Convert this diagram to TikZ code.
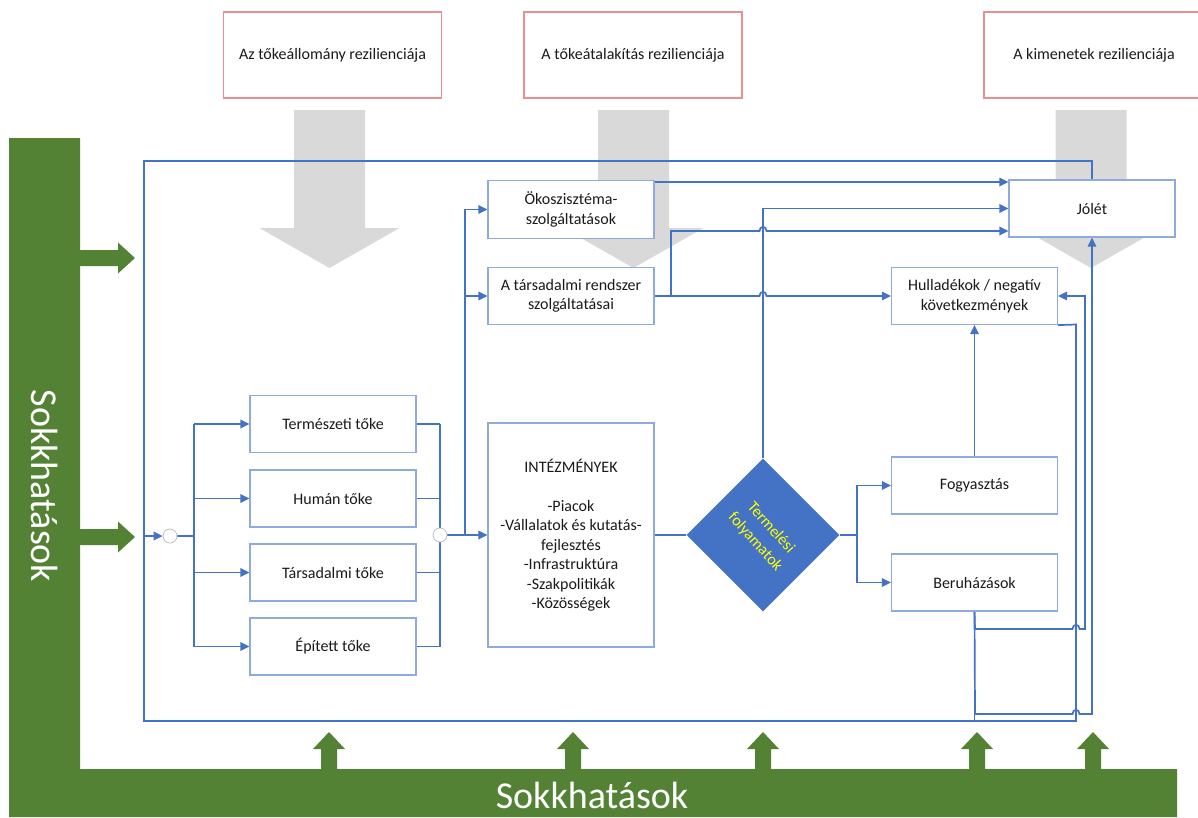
\documentclass[tikz,border=0pt]{standalone}
\usepackage{fontspec}
\setmainfont{Carlito}
\usetikzlibrary{arrows.meta,shapes.geometric,calc}
\definecolor{grn}{HTML}{548235}
\definecolor{gry}{HTML}{D9D9D9}
\definecolor{blu}{HTML}{4472C4}
\definecolor{lblu}{HTML}{8FAADC}
\definecolor{redb}{HTML}{EA8F8F}
\definecolor{txt}{HTML}{1A1A1A}
\definecolor{yel}{HTML}{FFFF00}
\definecolor{circgray}{HTML}{BFBFBF}
\pgfdeclarelayer{back}
\pgfdeclarelayer{lines}
\pgfsetlayers{back,lines,main}
\tikzset{
  box/.style={draw=lblu, line width=1.2pt, fill=white, minimum width=166pt, minimum height=57pt,
    inner sep=2pt, align=center, font=\fontsize{16}{19.5}\selectfont, text=txt},
  rbox/.style={draw=redb, line width=1.2pt, fill=white, minimum width=218pt, minimum height=86pt,
    inner sep=2pt, align=center, font=\fontsize{16}{19.5}\selectfont, text=txt},
  conn/.style={draw=blu, line width=1.7pt},
  withtip/.style={-{Triangle[length=9pt,width=8.5pt]}},
  circ/.style={circle, draw=circgray, fill=white, minimum size=14pt, inner sep=0pt, line width=0.8pt},
  bigtext/.style={font=\fontsize{38}{40}\selectfont, text=white, inner sep=0pt},
}
\begin{document}
\begin{tikzpicture}[x=1pt,y=-1pt]
\useasboundingbox (0,0) rectangle (1198,817);

% ---------- background shapes ----------
\begin{pgfonlayer}{back}
  \foreach \c in {329.5,633.5,1091}{
    \fill[gry] (\c-35.5,110) -- (\c+35.5,110) -- (\c+35.5,228) -- (\c+70,228) -- (\c,268)
      -- (\c-70,228) -- (\c-35.5,228) -- cycle;
  }
  % green L shape
  \fill[grn] (9,138) -- (80,138) -- (80,769) -- (1177,769) -- (1177,817) -- (9,817) -- cycle;
  % green arrows to the right
  \foreach \m in {258,537}{
    \fill[grn] (80,\m-8) -- (118,\m-8) -- (118,\m-15.5) -- (135,\m) -- (118,\m+15.5)
      -- (118,\m+8) -- (80,\m+8) -- cycle;
  }
  % green arrows upwards
  \foreach \c in {329,573,763,977,1093}{
    \fill[grn] (\c-8,769.5) -- (\c-8,749) -- (\c-16,749) -- (\c,732) -- (\c+16,749)
      -- (\c+8,749) -- (\c+8,769.5) -- cycle;
  }
\end{pgfonlayer}

\node[bigtext, rotate=-90] (sokv) at (44.5,486) {Sokkhatások};
\node[bigtext, anchor=base] (sokh) at (592,808) {Sokkhatások};

% ---------- top boxes ----------
\node[rbox] (r1) at (332.5,55) {Az tőkeállomány rezilienciája};
\node[rbox] (r2) at (633,55) {A tőkeátalakítás rezilienciája};
\node[rbox, minimum width=220pt] (r3) at (1094,55) {A kimenetek rezilienciája};

% ---------- capital boxes ----------
\node[box] (term) at (333,424) {Természeti tőke};
\node[box] (hum) at (333,498.5) {Humán tőke};
\node[box] (tarsk) at (333,572.5) {Társadalmi tőke};
\node[box] (epit) at (333,646.5) {Épített tőke};

\node[circ] (cin) at (170,536) {};
\node[circ] (cout) at (440,535) {};

% ---------- middle column ----------
\node[box, minimum height=58pt] (eco) at (571,209.5) {Ökoszisztéma-\\szolgáltatások};
\node[box] (tars) at (571,296) {A társadalmi rendszer\\szolgáltatásai};
\node[box, minimum height=224pt] (intez) at (571,535)
  {INTÉZMÉNYEK\\[19.5pt]-Piacok\\-Vállalatok és kutatás-\\fejlesztés\\-Infrastruktúra\\-Szakpolitikák\\-Közösségek};

\node[diamond, fill=blu, draw=none, minimum width=153pt, minimum height=153pt, inner sep=0pt, aspect=1] (prod) at (763,535) {};
\node[rotate=-48, text=yel, align=center, font=\fontsize{16}{21}\selectfont, inner sep=0pt] (prodlabel) at (763,535) {Termelési\\folyamatok};

% ---------- right column ----------
\node[box] (jolet) at (1092,208.5) {Jólét};
\node[box] (hull) at (974.5,296) {Hulladékok / negatív\\következmények};
\node[box] (fog) at (974.5,485.5) {Fogyasztás};
\node[box] (ber) at (974.5,582.5) {Beruházások};

% ---------- connectors ----------
\begin{pgfonlayer}{lines}
  % outer frame (feedback loop)
  \draw[conn] (jolet.north) |- (144,161) -- (144,721) -| (ber.south);
  \draw[conn,withtip] (144,536) -- (cin.west);
  % left bus
  \coordinate (lb) at (194,536);
  \draw[conn] (cin.east) -- (lb);
  \draw[conn] (lb |- term.west) -- (lb |- epit.west);
  \foreach \n in {term,hum,tarsk,epit}{
    \draw[conn,withtip] (lb |- \n.west) -- (\n.west);
  }
  % right bus
  \draw[conn] (cout |- term.east) -- (cout |- epit.east);
  \foreach \n in {term,hum,tarsk,epit}{
    \draw[conn] (\n.east) -- (cout |- \n.east);
  }
  \draw[conn,withtip] (cout.east) -- (intez.west);
  \coordinate (rb) at (465,535);
  \draw[conn,withtip] (rb) |- (eco.west);
  \draw[conn,withtip] (rb |- tars.west) -- (tars.west);
  % institutions -> production
  \draw[conn] (intez.east) -- (prod.west);
  % production -> consumption / investment
  \coordinate (pb) at (857,535);
  \draw[conn] (prod.east) -- (pb);
  \draw[conn,withtip] (pb) |- (fog.west);
  \draw[conn,withtip] (pb) |- (ber.west);
  % consumption -> waste
  \draw[conn,withtip] (fog.north) -- (hull.south);
  % ecosystem services -> wellbeing
  \coordinate (e1) at (654,182);
  \draw[conn,withtip] (e1) -- (e1 -| jolet.west);
  % production -> wellbeing
  \draw[conn,withtip] (prod.north) |- (jolet.west);
  % social services -> waste (hop over production line)
  \draw[conn,withtip] (tars.east) -- (759.5,296) .. controls (759.5,290.5) and (766.5,290.5) .. (766.5,296) -- (hull.west);
  % social services -> wellbeing
  \coordinate (t1) at (671,296);
  \coordinate (t2) at (671,231);
  \draw[conn,withtip] (t1) -- (t2) -- (759.5,231) .. controls (759.5,225.5) and (766.5,225.5) .. (766.5,231) -- (t2 -| jolet.west);
  % waste -> feedback loop
  \draw[conn] (hull.south east) -- (1076,324.5) -- (1076,721) -- (975,721);
  % investment -> waste
  \draw[conn,withtip] (ber.south) -- (975,629) -- (1072.5,629) .. controls (1072.5,623.5) and (1079.5,623.5) .. (1079.5,629)
     -- (1085,629) -- (1085,296) -- (hull.east);
  % investment -> wellbeing
  \draw[conn,withtip] (ber.south) -- (975,714) -- (1072.5,714) .. controls (1072.5,708.5) and (1079.5,708.5) .. (1079.5,714)
     -- (1092,714) -- (jolet.south);
\end{pgfonlayer}
\end{tikzpicture}
\end{document}
